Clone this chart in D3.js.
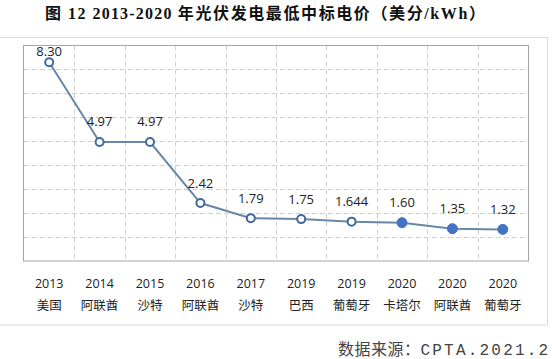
<!DOCTYPE html>
<html><head><meta charset="utf-8">
<script src="https://cdn.jsdelivr.net/npm/d3@7"></script>
<style>html,body{margin:0;padding:0;background:#fff;}svg{display:block;}</style>
</head><body>
<svg id="c" width="552" height="359"></svg>
<script>
const years = ["2013","2014","2015","2016","2017","2019","2019","2020","2020","2020"];
const countries = ["美国","阿联酋","沙特","阿联酋","沙特","巴西","葡萄牙","卡塔尔","阿联酋","葡萄牙"];
const values = [8.30, 4.97, 4.97, 2.42, 1.79, 1.75, 1.644, 1.60, 1.35, 1.32];
const labels = ["8.30","4.97","4.97","2.42","1.79","1.75","1.644","1.60","1.35","1.32"];
const filled = [false,false,false,false,false,false,false,true,true,true];
const yTicks = [0,1,2,3,4,5,6,7,8,9];

(function(){
const svg = d3.select("#c");
const cjk = "'Noto Sans CJK SC', 'Open Sans', sans-serif";
const num = "'Open Sans', 'Noto Sans CJK SC', sans-serif";

// outer frame
svg.append("rect").attr("x", -2).attr("y", 37.5).attr("width", 549.5).attr("height", 287.5)
  .attr("fill", "none").attr("stroke", "#d9d9d9").attr("stroke-width", 1);

// title
const t = svg.append("text").attr("x", 45).attr("y", 19)
  .attr("font-family", "'Liberation Serif', 'Noto Sans CJK SC', serif")
  .attr("font-weight", "bold").attr("font-size", 16).attr("fill", "#111")
  .style("white-space", "pre");
t.append("tspan").attr("letter-spacing", 1.5).text("图 12 ");
t.append("tspan").attr("letter-spacing", 1.2).text("2013-2020 ");
t.append("tspan").attr("letter-spacing", 1.6).text("年光伏发电最低中标电价（美分/kWh）");

const pl = 24, pr = 528, pt = 45.5, pb = 261;
const idx = d3.range(values.length);
const x = d3.scaleBand().domain(idx).range([pl, pr]);
const y = d3.scaleLinear().domain([0, 9]).range([pb, pt]);

// horizontal grid
svg.append("g").selectAll("line").data(yTicks.slice(1, -1)).join("line")
  .attr("x1", pl).attr("x2", pr)
  .attr("y1", d => Math.round(y(d)) + 0.5).attr("y2", d => Math.round(y(d)) + 0.5)
  .attr("stroke", "#d0d0d0").attr("stroke-dasharray", "5,3");
// vertical grid
svg.append("g").selectAll("line").data(idx.slice(1)).join("line")
  .attr("x1", d => Math.round(x(d)) + 0.5).attr("x2", d => Math.round(x(d)) + 0.5)
  .attr("y1", pt).attr("y2", pb)
  .attr("stroke", "#d0d0d0").attr("stroke-dasharray", "5,3");

// plot border
svg.append("rect").attr("x", pl - 0.5).attr("y", pt).attr("width", pr - pl + 1).attr("height", pb - pt)
  .attr("fill", "none").attr("stroke", "#a6a6a6").attr("stroke-width", 1);

const cx = i => x(i) + x.bandwidth() / 2;

// line
svg.append("path").datum(idx)
  .attr("d", d3.line().x(i => cx(i)).y(i => y(values[i])))
  .attr("fill", "none").attr("stroke", "#6788a8").attr("stroke-width", 2);

// markers
svg.append("g").selectAll("circle").data(idx).join("circle")
  .attr("cx", i => cx(i)).attr("cy", i => y(values[i]))
  .attr("r", i => filled[i] ? 5 : 4)
  .attr("fill", i => filled[i] ? "#4472c4" : "#ffffff")
  .attr("stroke", i => filled[i] ? "#4472c4" : "#41689c")
  .attr("stroke-width", i => filled[i] ? 1 : 2);

// data labels
svg.append("g").selectAll("text").data(idx).join("text")
  .attr("x", i => cx(i)).attr("y", i => Math.max(y(values[i]) - 20, 51) + 4.5)
  .attr("text-anchor", "middle").attr("font-family", num).attr("font-size", 13).attr("fill", "#222")
  .text(i => labels[i]);

// category axis labels
const ax = svg.append("g");
ax.selectAll("text.yr").data(idx).join("text").attr("class", "yr")
  .attr("x", i => cx(i)).attr("y", 288)
  .attr("text-anchor", "middle").attr("font-family", num).attr("font-size", 12.5).attr("fill", "#222")
  .text(i => years[i]);
ax.selectAll("text.ct").data(idx).join("text").attr("class", "ct")
  .attr("x", i => cx(i)).attr("y", 310)
  .attr("text-anchor", "middle").attr("font-family", cjk).attr("font-size", 12.5).attr("fill", "#222")
  .text(i => countries[i]);

// source
const s = svg.append("text").attr("x", 338).attr("y", 355)
  .attr("font-size", 16).attr("fill", "#444");
s.append("tspan").attr("font-family", "'Noto Sans CJK SC', serif").attr("letter-spacing", 0.5).text("数据来源：");
s.append("tspan").attr("font-family", "'Liberation Mono', monospace").attr("letter-spacing", 2.2).text("CPTA.2021.2");
})();
</script>
</body></html>
